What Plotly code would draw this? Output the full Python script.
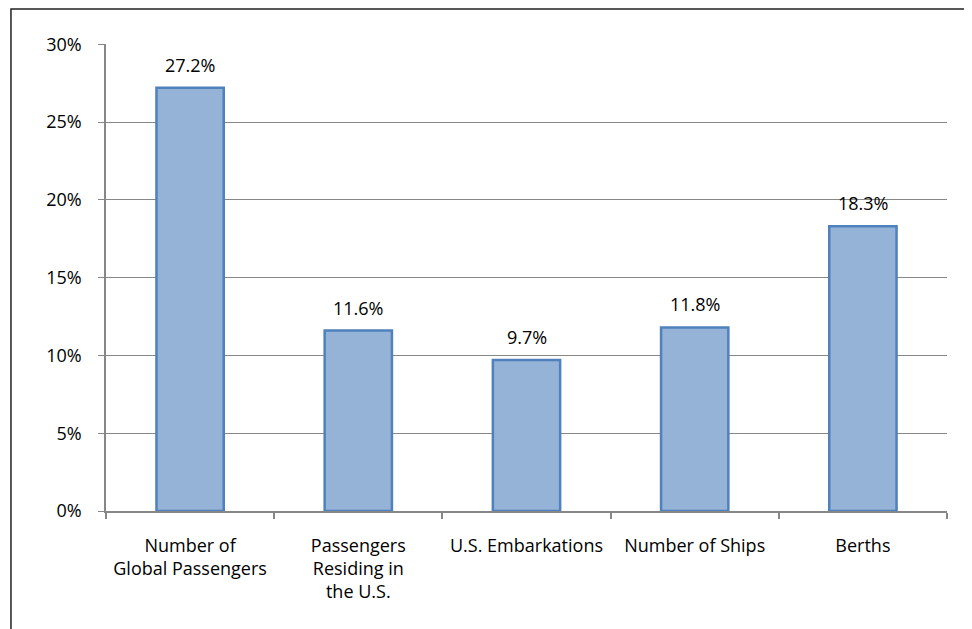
import plotly.graph_objects as go

categories = ["Number of<br>Global Passengers", "Passengers<br>Residing in<br>the U.S.",
              "U.S. Embarkations", "Number of Ships", "Berths"]
values = [27.2, 11.6, 9.7, 11.8, 18.3]
labels = ["27.2%", "11.6%", "9.7%", "11.8%", "18.3%"]

font = "Open Sans, Liberation Sans, sans-serif"

fig = go.Figure()
fig.add_trace(go.Bar(
    x=categories, y=values, width=0.4,
    marker=dict(color="#95B3D7", line=dict(color="#4F81BD", width=2.5)),
))

# data labels a bit further above the bars, like the original
for c, v, t in zip(categories, values, labels):
    fig.add_annotation(x=c, y=v, text=t, showarrow=False, yanchor="bottom",
                       yshift=9, font=dict(size=18, color="#000"))

fig.update_layout(
    width=972, height=629,
    margin=dict(l=98, r=33, t=36, b=126),
    plot_bgcolor="white", paper_bgcolor="white",
    font=dict(family=font, size=18, color="#000"),
    showlegend=False,
    xaxis=dict(showline=True, linecolor="#878787", linewidth=2,
               ticks="outside", tickson="boundaries", ticklen=6, tickcolor="#878787",
               tickwidth=1.5, tickfont=dict(size=18), ticklabelstandoff=17),
    yaxis=dict(range=[0, 30.02], dtick=5, ticksuffix="%", showline=True,
               linecolor="#878787", linewidth=1.5, showgrid=True, gridcolor="#878787",
               gridwidth=1, ticks="outside", ticklen=6, tickcolor="#878787",
               zeroline=False, tickfont=dict(size=18), ticklabelstandoff=13),
    shapes=[dict(type="rect", xref="paper", yref="paper",
                 x0=-0.113, x1=1.026, y0=-0.5, y1=1.075,
                 line=dict(color="#222", width=1.5), fillcolor="rgba(0,0,0,0)")],
)

fig.write_html("out.html")
